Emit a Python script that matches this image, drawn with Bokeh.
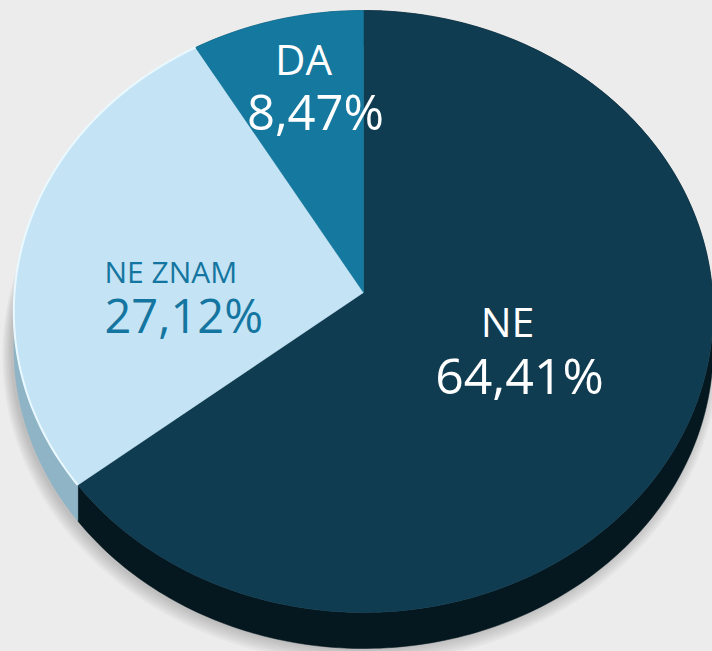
import numpy as np
from bokeh.plotting import figure
from bokeh.models import Range1d
from bokeh.embed import file_html
from bokeh.resources import INLINE
from bokeh.core.properties import value

# ---------------- data ----------------
categories = ["NE", "NE ZNAM", "DA"]
shares = [64.41, 27.12, 8.47]
top_colors = ["#103c51", "#c4e4f5", "#14789f"]
side_colors = ["#05171f", "#8fb4c6", "#0c4b64"]
label_colors = ["#ffffff", "#1476a0", "#ffffff"]
pct_labels = [("%.2f%%" % v).replace(".", ",") for v in shares]

# ---------------- layout ----------------
W, H = 712, 651
CX, APEX_Y = 363.0, 292.0
R = 349.0
Y_FAR, Y_NEAR = 10.0, 612.0
DEPTH = 36.0
FONT = value("Open Sans")
# per label: (name_x, name_y, pct_x, pct_y, align, name_size, pct_size)
label_layout = [
    (507, 320, 519, 374, "center", "41px", "50px"),
    (104, 271, 104, 314, "left", "30px", "47px"),
    (303, 58, 315, 110, "center", "42px", "49px"),
]

# perspective (homography) of the pie disc
c = (2 * APEX_Y - Y_FAR - Y_NEAR) / (Y_FAR - Y_NEAR)
a = Y_FAR * (c + 1) - APEX_Y
b = APEX_Y


def proj(theta):
    u = np.sin(theta)
    v = np.cos(theta)
    d = 1 + c * v
    return CX + R * u / d, (a * v + b) / d


p = figure(width=W, height=H, x_range=Range1d(0, W), y_range=Range1d(H, 0),
           output_backend="svg", toolbar_location=None, min_border=0)
p.xaxis.visible = False
p.yaxis.visible = False
p.grid.visible = False
p.outline_line_color = None
p.background_fill_color = "#ececec"
p.border_fill_color = "#ececec"

# soft drop shadow
full = np.linspace(0, 2 * np.pi, 361)
fx, fy = proj(full)
for k in range(7):
    s = 1 + 0.004 * k
    sx = CX + (fx - CX) * s - 3
    sy = 311 + (fy - 311) * s + DEPTH + 2 + k
    p.patch(list(sx), list(sy), fill_color="#6a6a6a", fill_alpha=0.05, line_color=None)

# slices
total = sum(shares)
bounds = np.cumsum([0] + shares) / total * 2 * np.pi
arcs = []
for i in range(len(shares)):
    th = np.linspace(bounds[i], bounds[i + 1], max(int(360 * shares[i] / total), 4))
    arcs.append(proj(th))

# sides
for i in range(len(shares)):
    x, y = arcs[i]
    xs = list(x) + list(x[::-1])
    ys = list(y) + list((y + DEPTH)[::-1])
    p.patch(xs, ys, fill_color=side_colors[i], line_color=side_colors[i], line_width=0.5)

# tops
for i in range(len(shares)):
    x, y = arcs[i]
    xs = [CX] + list(x)
    ys = [APEX_Y] + list(y)
    p.patch(xs, ys, fill_color=top_colors[i], line_color=top_colors[i], line_width=0.5)

# light rim highlight on the pale slice
x, y = arcs[1]
p.line(list(x), list(y), line_color="#eaf9ff", line_width=2)

# labels
for i in range(len(categories)):
    nx, ny, px_, py, al, ns, ps = label_layout[i]
    p.text(x=[nx], y=[ny], text=[categories[i]], text_color=label_colors[i],
           text_font=FONT, text_font_size=ns, text_align=al, text_baseline="alphabetic")
    p.text(x=[px_], y=[py], text=[pct_labels[i]], text_color=label_colors[i],
           text_font=FONT, text_font_size=ps, text_align=al, text_baseline="alphabetic")

html = file_html(p, INLINE)
html = html.replace("</head>", "<style>body{background:#ececec;}</style></head>", 1)
open("out.html", "w").write(html)
